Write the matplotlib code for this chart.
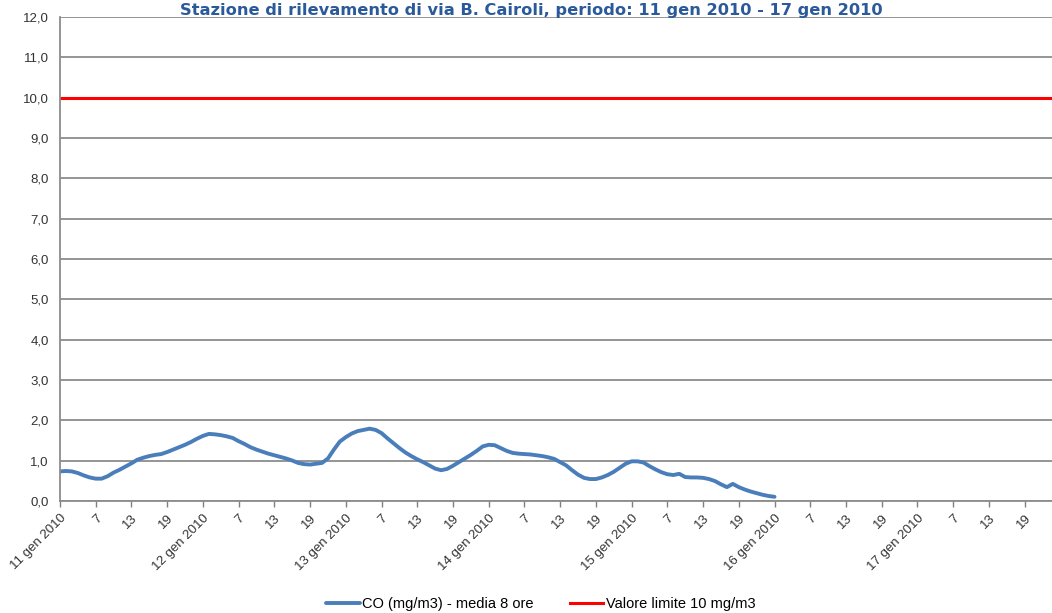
import numpy as np
import matplotlib.pyplot as plt

# hourly CO 8-hour rolling average, starting 11 gen 2010 h1
co_values = [
    0.73, 0.74, 0.73, 0.69, 0.63, 0.58, 0.55, 0.55, 0.61, 0.70,
    0.77, 0.85, 0.93, 1.02, 1.07, 1.11, 1.14, 1.16, 1.21, 1.27,
    1.33, 1.39, 1.46, 1.54, 1.61, 1.66, 1.65, 1.63, 1.60, 1.56,
    1.48, 1.41, 1.33, 1.27, 1.22, 1.17, 1.13, 1.09, 1.05, 1.00,
    0.94, 0.91, 0.90, 0.92, 0.94, 1.05, 1.27, 1.47, 1.58, 1.67,
    1.73, 1.76, 1.79, 1.76, 1.68, 1.55, 1.43, 1.31, 1.20, 1.11,
    1.03, 0.96, 0.88, 0.80, 0.76, 0.79, 0.87, 0.96, 1.05, 1.14,
    1.24, 1.35, 1.39, 1.38, 1.31, 1.24, 1.19, 1.17, 1.16, 1.15,
    1.13, 1.11, 1.08, 1.04, 0.96, 0.88, 0.76, 0.65, 0.57, 0.54,
    0.54, 0.58, 0.64, 0.72, 0.82, 0.92, 0.98, 0.98, 0.95, 0.86,
    0.78, 0.71, 0.66, 0.64, 0.67, 0.59, 0.58, 0.58, 0.57, 0.54,
    0.49, 0.41, 0.34, 0.42, 0.34, 0.28, 0.23, 0.19, 0.15, 0.12,
    0.10,
]
limit_value = 10.0
days = ['11 gen 2010', '12 gen 2010', '13 gen 2010', '14 gen 2010',
        '15 gen 2010', '16 gen 2010', '17 gen 2010']
hour_labels = ['7', '13', '19']

hours = np.arange(len(co_values))
n_hours = 24 * len(days)

fig = plt.figure(figsize=(10.52, 6.13), dpi=100)
ax = fig.add_axes([0.057, 0.183, 0.943, 0.789])

ax.plot(hours, co_values, color='#4A7EBB', linewidth=2.8,
        label='CO (mg/m3) - media 8 ore', solid_capstyle='round')
ax.axhline(limit_value, color='#FF0000', linewidth=2.2,
           label='Valore limite 10 mg/m3')

# x axis: tick every 6 hours
tick_pos = np.arange(0, n_hours, 6)
tick_lab = []
for i in range(len(days)):
    tick_lab.append(days[i])
    tick_lab.extend(hour_labels)
ax.set_xticks(tick_pos)
ax.set_xticklabels(tick_lab, rotation=45, ha='right', va='top',
                   rotation_mode='anchor', fontsize=9.5,
                   family='Liberation Sans', color='#333333')
ax.set_xlim(0, 166.6)

ax.set_ylim(0, 12)
ax.set_yticks(np.arange(0, 13, 1))
ax.set_yticklabels([f'{v:.1f}'.replace('.', ',') for v in range(13)],
                   fontsize=9.5, family='Liberation Sans', color='#333333')
ax.tick_params(axis='y', length=0, pad=8)
ax.tick_params(axis='x', length=4, width=1, color='#808080', pad=4)

ax.grid(axis='y', color='#8C8C8C', linewidth=1.3)
ax.set_axisbelow(True)
for s in ['top', 'right']:
    ax.spines[s].set_visible(False)
ax.spines['left'].set_color('#8C8C8C')
ax.spines['left'].set_linewidth(1.3)
ax.spines['bottom'].set_color('#8C8C8C')
ax.spines['bottom'].set_linewidth(1.3)

fig.text(0.505, 0.983, 'Stazione di rilevamento di via B. Cairoli, periodo: 11 gen 2010 - 17 gen 2010',
         ha='center', va='center', fontsize=11.7, fontweight='bold',
         color='#2B5A9B', family='DejaVu Sans')

fig.legend(loc='center', bbox_to_anchor=(0.514, 0.014), ncol=2, frameon=False,
           prop={'family': 'Liberation Sans', 'size': 10.5}, handlelength=2.3,
           handletextpad=0.15, columnspacing=2.5)

fig.savefig('out.png', dpi=100)
